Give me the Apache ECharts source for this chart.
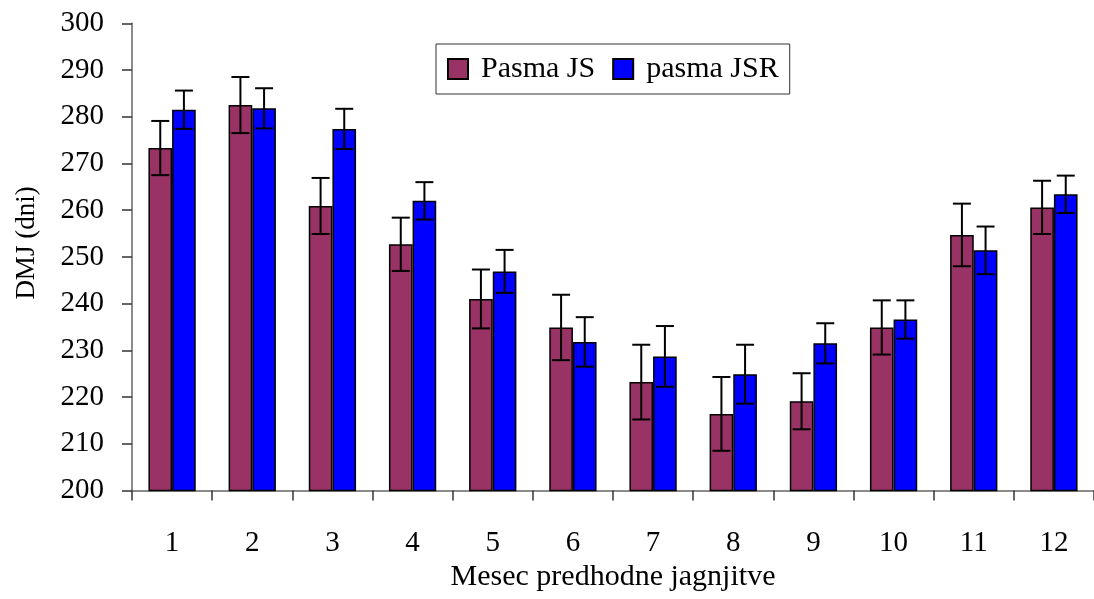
<!DOCTYPE html>
<html>
<head>
<meta charset="utf-8">
<script src="https://cdn.jsdelivr.net/npm/echarts@6/dist/echarts.min.js"></script>
<style>html,body{margin:0;padding:0;background:#fff}#c{width:1094px;height:599px}</style>
</head>
<body>
<div id="c"></div>
<script>
var categories = ['1','2','3','4','5','6','7','8','9','10','11','12'];
var jsValues  = [273.3, 282.5, 260.9, 252.7, 241.0, 234.9, 223.2, 216.4, 219.1, 234.9, 254.7, 260.6];
var jsErr     = [5.8, 6.0, 6.0, 5.7, 6.3, 7.0, 8.0, 7.9, 6.0, 5.8, 6.7, 5.7];
var jsrValues = [281.5, 281.8, 277.4, 262.0, 246.9, 231.8, 228.7, 224.9, 231.5, 236.6, 251.4, 263.4];
var jsrErr    = [4.1, 4.3, 4.3, 4.0, 4.6, 5.3, 6.5, 6.3, 4.3, 4.1, 5.1, 4.0];
var seriesNames = ['Pasma JS', 'pasma JSR'];
var yTicks = [200, 300, 10];

var FONT = 'Liberation Serif';
var GAP = 0.41; // bar category gap fraction
var barFrac = (1 - GAP) / 2;

function errData(vals, errs) {
  return vals.map(function (v, i) { return [i, v, errs[i]]; });
}
function errRender(side) {
  return function (params, api) {
    var i = api.value(0), v = api.value(1), e = api.value(2);
    var band = api.size([1, 0])[0];
    var c = api.coord([i, v]);
    var x = c[0] + side * band * barFrac / 2;
    var top = api.coord([i, v + e])[1];
    var bot = api.coord([i, v - e])[1];
    var hw = 9;
    var st = { stroke: '#000', lineWidth: 2 };
    return { type: 'group', children: [
      { type: 'line', shape: { x1: x, y1: top, x2: x, y2: bot }, style: st },
      { type: 'line', shape: { x1: x - hw, y1: top, x2: x + hw, y2: top }, style: st },
      { type: 'line', shape: { x1: x - hw, y1: bot, x2: x + hw, y2: bot }, style: st }
    ]};
  };
}

var chart = echarts.init(document.getElementById('c'));
chart.setOption({
  animation: false,
  backgroundColor: '#fff',
  textStyle: { fontFamily: FONT, color: '#000' },
  grid: { left: 132, top: 23.3, width: 975, bottom: 108.5, containLabel: false },
  legend: {
    data: seriesNames,
    left: 436, top: 44,
    padding: [10, 11, 10, 11],
    borderColor: '#333', borderWidth: 1,
    itemWidth: 20, itemHeight: 20, itemGap: 17,
    icon: 'rect',
    textStyle: { fontFamily: FONT, fontSize: 30, color: '#000', padding: [0, 0, 0, 8] }
  },
  xAxis: {
    type: 'category',
    data: categories,
    axisLine: { lineStyle: { color: '#666', width: 1.5 } },
    axisTick: { show: true, length: 10, lineStyle: { color: '#333', width: 1.5 } },
    axisLabel: { fontFamily: FONT, fontSize: 29, color: '#000', margin: 38 },
    name: 'Mesec predhodne jagnjitve',
    nameLocation: 'middle',
    nameGap: 72,
    nameTextStyle: { fontFamily: FONT, fontSize: 30, color: '#000' }
  },
  yAxis: {
    type: 'value',
    min: yTicks[0], max: yTicks[1], interval: yTicks[2],
    splitLine: { show: false },
    axisLine: { show: true, lineStyle: { color: '#666', width: 1.5 } },
    axisTick: { show: true, length: 10, lineStyle: { color: '#333', width: 1.5 } },
    axisLabel: { fontFamily: FONT, fontSize: 29, color: '#000', margin: 28 }
  },
  graphic: [{
    type: 'text', x: 27, y: 243, rotation: Math.PI / 2,
    style: { text: 'DMJ (dni)', font: '27px "Liberation Serif"', fill: '#000', align: 'center', verticalAlign: 'middle' }
  }],
  series: [
    { name: seriesNames[0], type: 'bar', data: jsValues, barGap: '0%', barCategoryGap: (GAP * 100) + '%',
      itemStyle: { color: '#993366', borderColor: '#000', borderWidth: 1.5 } },
    { name: seriesNames[1], type: 'bar', data: jsrValues, barGap: '0%', barCategoryGap: (GAP * 100) + '%',
      itemStyle: { color: '#0000ff', borderColor: '#000', borderWidth: 1.5 } },
    { type: 'custom', renderItem: errRender(-1), data: errData(jsValues, jsErr), encode: { x: 0, y: 1 }, z: 10, silent: true },
    { type: 'custom', renderItem: errRender(1), data: errData(jsrValues, jsrErr), encode: { x: 0, y: 1 }, z: 10, silent: true }
  ]
});
</script>
</body>
</html>
